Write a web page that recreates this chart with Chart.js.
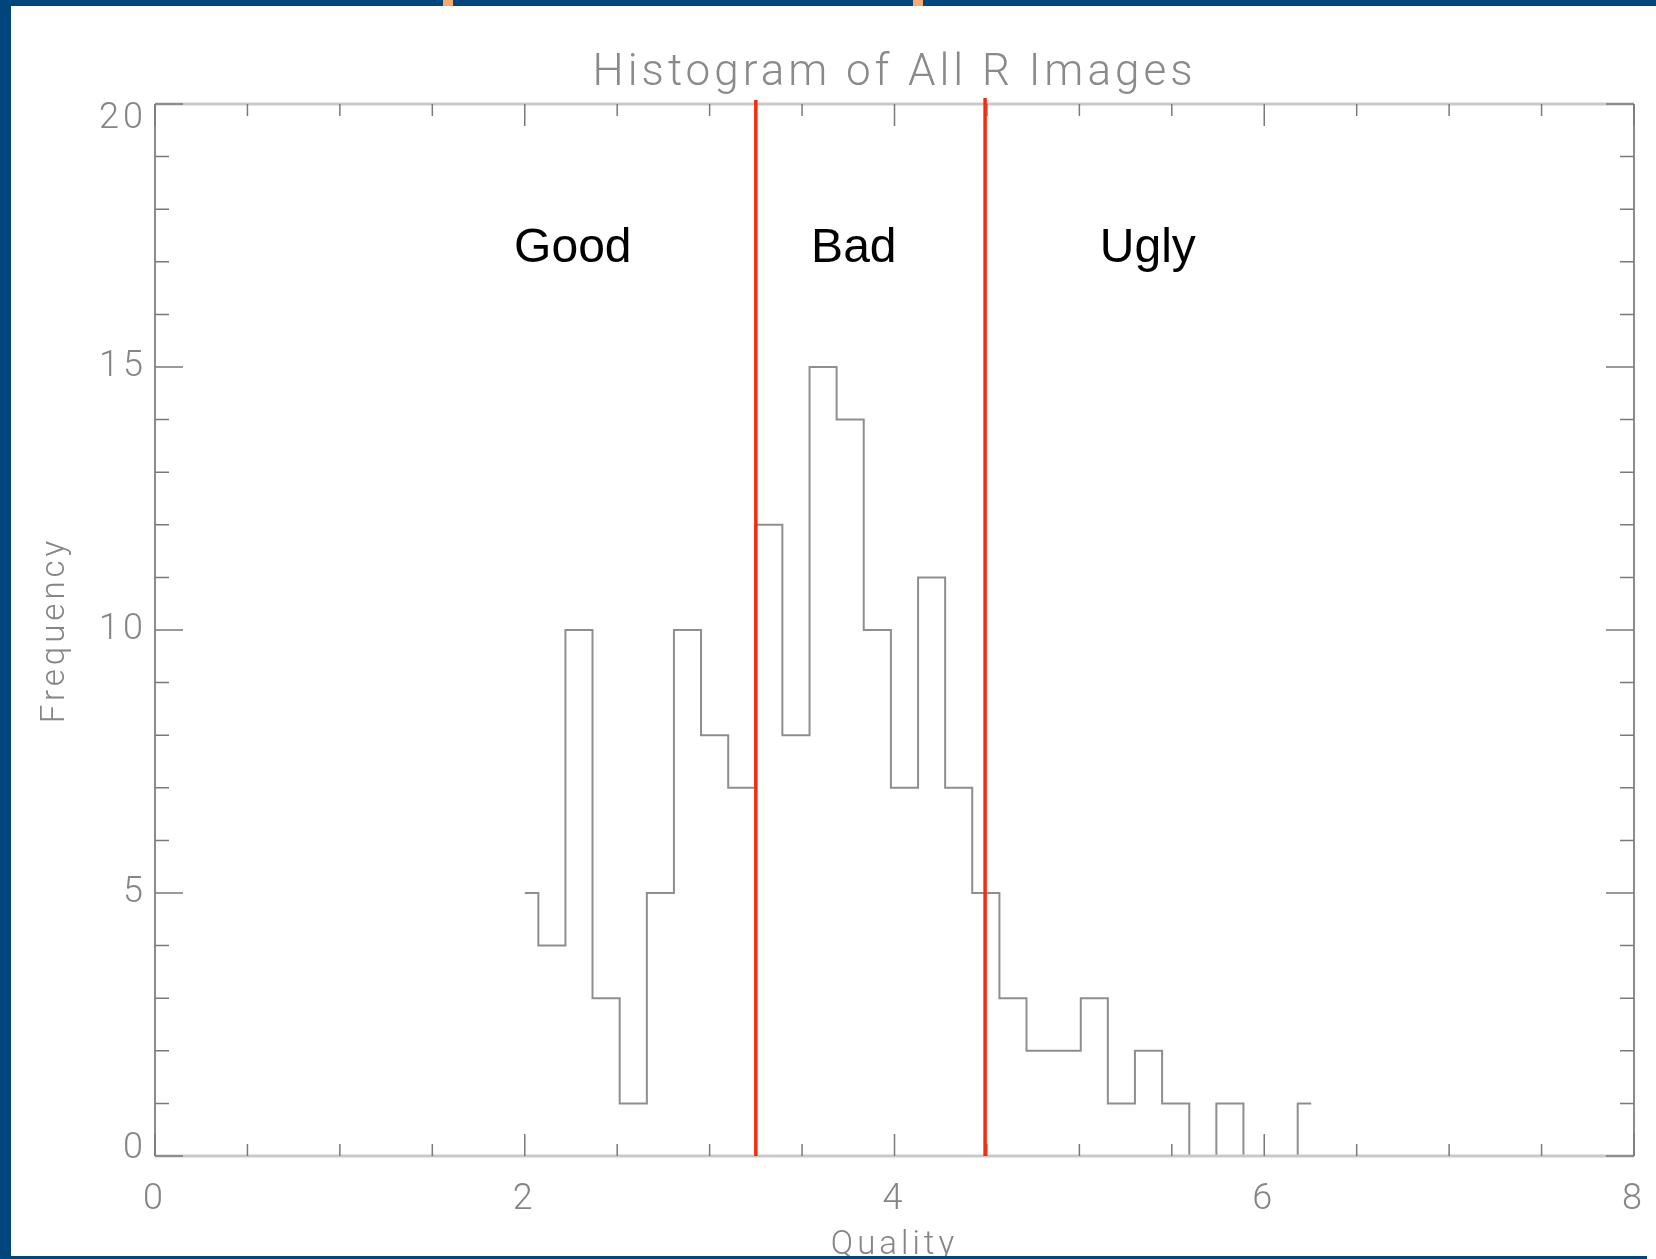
<!DOCTYPE html>
<html>
<head>
<meta charset="utf-8">
<title>Histogram of All R Images</title>
<script src="https://cdn.jsdelivr.net/npm/chart.js@4.4.1/dist/chart.umd.min.js"></script>
<style>
  html, body { margin: 0; padding: 0; background: #fff; overflow: hidden; }
  #wrap { position: relative; width: 1656px; height: 1259px; }
  #histChart { position: absolute; left: 0; top: 0; }
  .band { position: absolute; background: #00457c; }
  .mark { position: absolute; top: 0; width: 10px; height: 6px; background: #f6a971; }
</style>
</head>
<body>
<div id="wrap">
  <canvas id="histChart" width="1656" height="1259"></canvas>
  <div class="band" style="left:0;top:0;width:1656px;height:6px"></div>
  <div class="band" style="left:0;top:0;width:11px;height:1259px"></div>
  <div class="band" style="left:0;top:1256px;width:1647px;height:3px"></div>
  <div class="mark" style="left:443px"></div>
  <div class="mark" style="left:913px"></div>
</div>
<script>
// bin centres (quality) and counts
const binCenters = [2.000, 2.147, 2.293, 2.440, 2.587, 2.734, 2.880, 3.027, 3.174, 3.320,
                    3.467, 3.614, 3.760, 3.907, 4.054, 4.201, 4.347, 4.494, 4.641, 4.787,
                    4.934, 5.081, 5.227, 5.374, 5.521, 5.668, 5.814, 5.961, 6.108, 6.254];
const counts = [5, 4, 10, 3, 1, 5, 10, 8, 7, 12,
                8, 15, 14, 10, 7, 11, 7, 5, 3, 2,
                2, 3, 1, 2, 1, 0, 1, 0, 0, 1];

// red cut lines and the zone names between them
const cutLines = [3.25, 4.49];
const zoneNames = ['Good', 'Bad', 'Ugly'];
const zoneX = [2.26, 3.78, 5.37];
const zoneY = 17.0;

const greyText = '#858585';
const tickFont = { family: 'Roboto', size: 36, weight: '300', lineHeight: 1 };
const yTickFont = { family: 'Roboto', size: 36, weight: '300', lineHeight: 0.405 };
const axisTitleFont = { family: 'Roboto', size: 33, weight: '300', lineHeight: 1 };
const xTitleFont = { family: 'Roboto', size: 33, weight: '300', lineHeight: 0.82 };

// IDL style frame with inward ticks on all four sides
const frameTicks = {
    id: 'frameTicks',
    beforeDraw(chart) {
        chart.ctx.letterSpacing = '4px';
    },
    afterDatasetsDraw(chart) {
        const { ctx, chartArea: a, scales: { x, y } } = chart;
        ctx.save();
        ctx.lineWidth = 3;
        ctx.strokeStyle = '#c9c9c9';
        ctx.beginPath();
        ctx.moveTo(a.left, a.top); ctx.lineTo(a.right, a.top);
        ctx.moveTo(a.left, a.bottom); ctx.lineTo(a.right, a.bottom);
        ctx.stroke();
        ctx.lineWidth = 2;
        ctx.strokeStyle = '#8c8c8c';
        ctx.beginPath();
        ctx.moveTo(a.left, a.top); ctx.lineTo(a.left, a.bottom);
        ctx.moveTo(a.right, a.top); ctx.lineTo(a.right, a.bottom);
        ctx.stroke();

        ctx.lineWidth = 1.5;
        ctx.strokeStyle = '#7a7a7a';
        ctx.beginPath();
        for (let v = 0; v <= 8; v += 0.5) {
            const px = x.getPixelForValue(v);
            const len = v % 2 === 0 ? 22 : 12;
            ctx.moveTo(px, a.bottom); ctx.lineTo(px, a.bottom - len);
            ctx.moveTo(px, a.top); ctx.lineTo(px, a.top + len);
        }
        for (let v = 0; v <= 20; v++) {
            const py = y.getPixelForValue(v);
            const len = v % 5 === 0 ? 28 : 14;
            ctx.moveTo(a.left, py); ctx.lineTo(a.left + len, py);
            ctx.moveTo(a.right, py); ctx.lineTo(a.right - len, py);
        }
        ctx.stroke();
        ctx.restore();
    },
    afterDraw(chart) {
        const { ctx, chartArea: a, scales: { x, y } } = chart;
        ctx.save();
        // cut lines
        ctx.strokeStyle = '#f72a0c';
        ctx.lineWidth = 3.5;
        cutLines.forEach((c, i) => {
            const px = x.getPixelForValue(c);
            ctx.beginPath();
            ctx.moveTo(px, a.top - 4 - i * 2);
            ctx.lineTo(px, a.bottom);
            ctx.stroke();
        });
        // zone names
        ctx.letterSpacing = '0px';
        ctx.fillStyle = '#000';
        ctx.font = '48px "Liberation Sans", Arial, sans-serif';
        ctx.textAlign = 'center';
        ctx.textBaseline = 'alphabetic';
        zoneNames.forEach((name, i) => {
            ctx.fillText(name, x.getPixelForValue(zoneX[i]), y.getPixelForValue(zoneY));
        });
        ctx.restore();
        ctx.letterSpacing = '0px';
    }
};

const ctx = document.getElementById('histChart').getContext('2d');
new Chart(ctx, {
    type: 'line',
    data: {
        datasets: [{
            label: 'Frequency',
            data: binCenters.map((c, i) => ({ x: c, y: counts[i] })),
            stepped: 'middle',
            borderColor: '#8e8e8e',
            borderWidth: 2,
            pointRadius: 0,
            fill: false,
            xAxisID: 'x',
            yAxisID: 'y'
        }]
    },
    options: {
        responsive: false,
        animation: false,
        layout: { padding: { left: 0, right: 22, top: 0, bottom: 0 } },
        plugins: {
            legend: { display: false },
            tooltip: { enabled: false }
        },
        scales: {
            x: {
                type: 'linear',
                position: 'bottom',
                min: 0,
                max: 8,
                grid: { display: false, drawTicks: false },
                border: { display: false },
                ticks: { stepSize: 2, color: greyText, font: tickFont, padding: 26, maxRotation: 0 },
                title: { display: true, text: 'Quality', color: greyText, font: xTitleFont, padding: { top: 0, bottom: 0 } },
                afterFit(scale) {
                    scale.height = 103;
                    scale.paddingLeft = 0;
                    scale.paddingRight = 0;
                }
            },
            x2: {
                type: 'linear',
                position: 'top',
                min: 0,
                max: 8,
                grid: { display: false, drawTicks: false },
                border: { display: false },
                ticks: { display: false },
                title: {
                    display: true,
                    text: 'Histogram of All R Images',
                    color: '#8a8a8a',
                    font: { family: 'Roboto', size: 44, weight: '300', lineHeight: 1 },
                    padding: { top: 52, bottom: 0 }
                },
                afterFit(scale) {
                    scale.height = 104;
                    scale.paddingLeft = 0;
                    scale.paddingRight = 0;
                }
            },
            y: {
                min: 0,
                max: 20,
                grid: { display: false, drawTicks: false },
                border: { display: false },
                ticks: {
                    stepSize: 5,
                    color: greyText,
                    font: yTickFont,
                    padding: 8,
                    // IDL keeps the end labels inside the frame
                    callback(value) {
                        if (value === 20) return ['', '', '20'];
                        if (value === 0) return ['0', ''];
                        return String(value);
                    }
                },
                title: { display: true, text: 'Frequency', color: greyText, font: axisTitleFont, padding: { top: 39, bottom: 0 } },
                afterFit(scale) { scale.width = 155; }
            }
        }
    },
    plugins: [frameTicks]
});
</script>
</body>
</html>
